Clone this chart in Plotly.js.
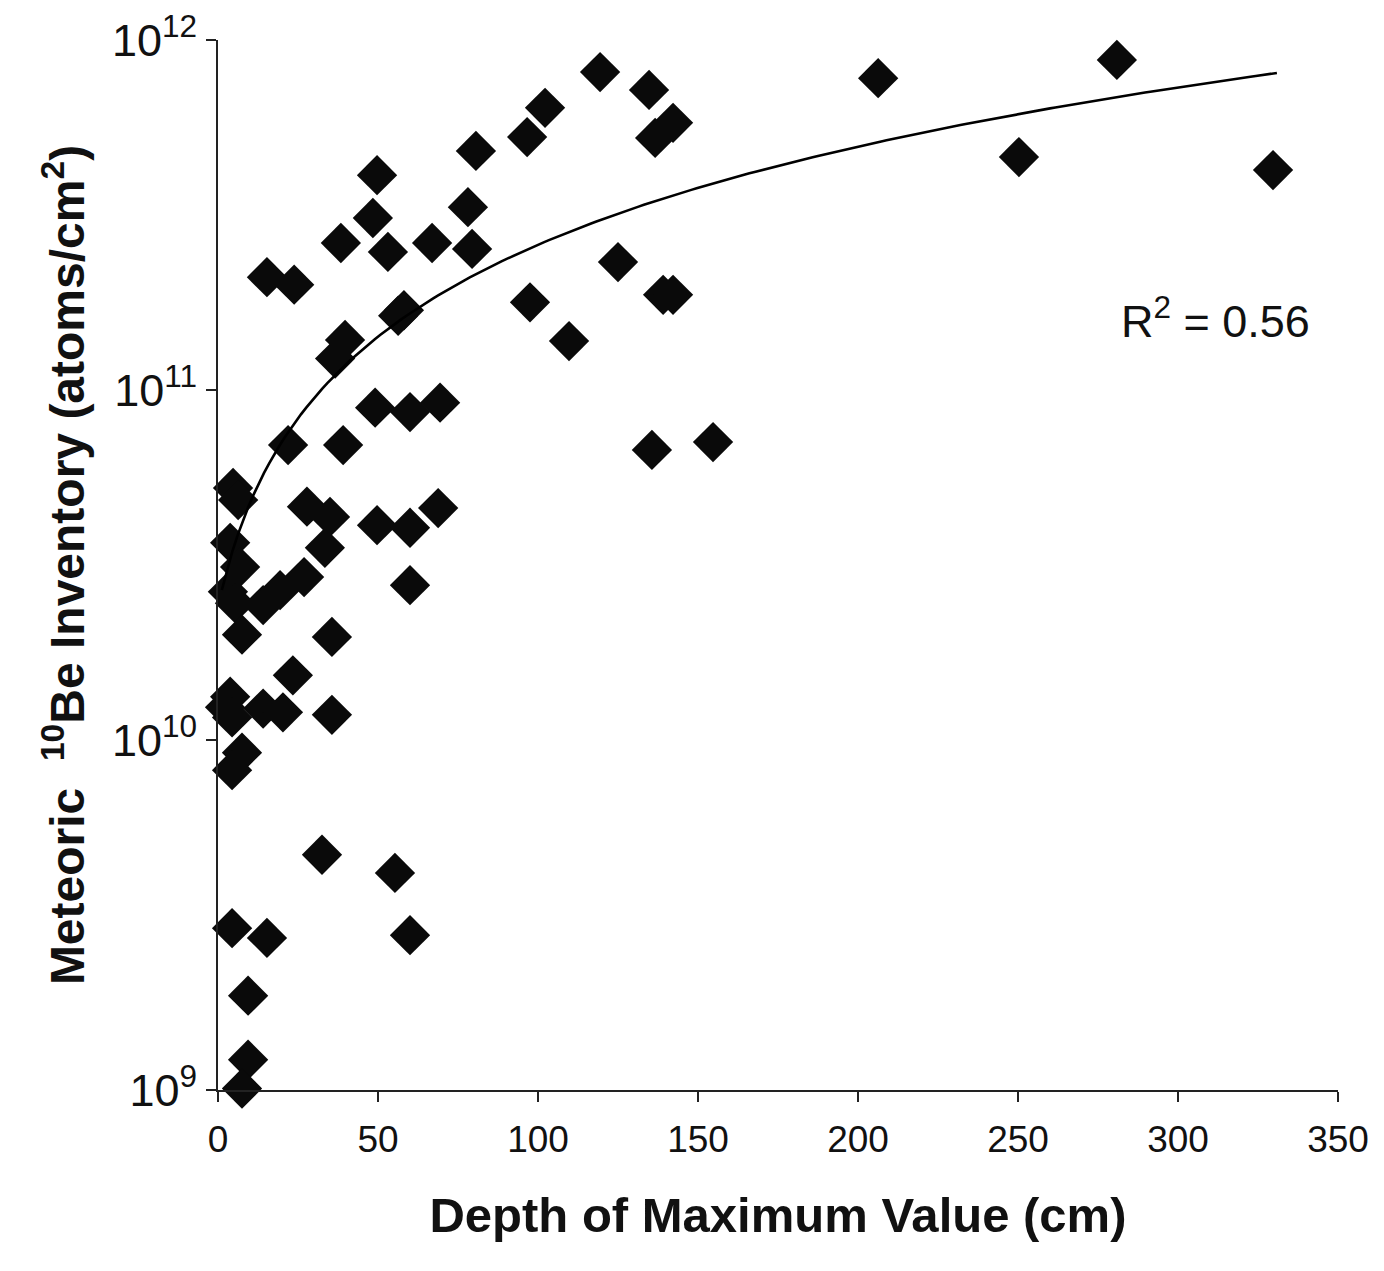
<!DOCTYPE html>
<html>
<head>
<meta charset="utf-8">
<script src="https://cdn.plot.ly/plotly-3.0.1.min.js"></script>
<style>html,body{margin:0;padding:0;background:#fff;}#chart{width:1384px;height:1271px;}</style>
</head>
<body>
<div id="chart"></div>
<script>
// Depth of maximum value (cm)
const depthCm = [119.4, 280.9, 206.3, 134.7, 102.2, 96.6, 136.6, 142.2, 80.6, 250.3,
  329.7, 49.7, 48.4, 78.1, 38.4, 53.1, 66.9, 79.4, 125.0, 15.3,
  23.8, 97.5, 139.1, 142.2, 56.3, 58.1, 109.7, 39.7, 36.6, 49.1,
  60.0, 69.4, 135.6, 154.7, 21.9, 39.1, 4.7, 6.3, 27.8, 35.0,
  33.4, 49.7, 60.0, 68.8, 60.0, 3.8, 6.9, 3.1, 5.3, 14.1,
  19.4, 26.9, 7.5, 35.6, 23.4, 3.8, 2.2, 14.1, 20.3, 35.6,
  4.4, 7.5, 4.4, 32.5, 55.3, 4.4, 15.3, 60.0, 9.4, 9.4, 7.5];
// Meteoric 10Be inventory (atoms/cm2)
const inventory = [8.1e11, 8.77e11, 7.78e11, 7.2e11, 6.4e11, 5.28e11, 5.25e11, 5.8e11, 4.82e11, 4.63e11,
  4.25e11, 4.11e11, 3.1e11, 3.33e11, 2.63e11, 2.48e11, 2.63e11, 2.53e11, 2.32e11, 2.1e11,
  2.0e11, 1.78e11, 1.87e11, 1.87e11, 1.63e11, 1.69e11, 1.38e11, 1.39e11, 1.23e11, 8.9e10,
  8.65e10, 9.2e10, 6.74e10, 7.1e10, 6.96e10, 6.96e10, 5.25e10, 4.85e10, 4.64e10, 4.34e10,
  3.54e10, 4.11e10, 4.04e10, 4.6e10, 2.77e10, 3.66e10, 3.12e10, 2.65e10, 2.46e10, 2.43e10,
  2.68e10, 2.92e10, 2.0e10, 1.97e10, 1.53e10, 1.33e10, 1.24e10, 1.23e10, 1.2e10, 1.18e10,
  1.16e10, 9.2e9, 8.2e9, 4.7e9, 4.17e9, 2.9e9, 2.72e9, 2.77e9, 1.86e9, 1.22e9, 1.01e9];

// Linear trendline: y = slope * x + intercept
const trendSlope = 2.36e9;
const trendIntercept = 2.4e10;
const trendXStart = 1.2;
const trendXEnd = 330.9;
const rSquaredLabel = 'R<sup>2</sup> = 0.56';

const yTickVals = [1e9, 1e10, 1e11, 1e12];
const yTickText = ['10<sup>9</sup>', '10<sup>10</sup>', '10<sup>11</sup>', '10<sup>12</sup>'];
const xTickVals = [0, 50, 100, 150, 200, 250, 300, 350];

const trendX = [];
const trendY = [];
for (let i = 0; i <= 200; i++) {
  const x = trendXStart + (trendXEnd - trendXStart) * i / 200;
  trendX.push(x);
  trendY.push(trendSlope * x + trendIntercept);
}

const font = 'Liberation Sans, Arial, sans-serif';

const data = [
  {
    x: depthCm, y: inventory, type: 'scatter', mode: 'markers',
    marker: {symbol: 'diamond', size: 31, color: '#0a0a0a', line: {width: 0}},
    cliponaxis: false, showlegend: false, hoverinfo: 'x+y'
  },
  {
    x: trendX, y: trendY, type: 'scatter', mode: 'lines',
    line: {color: '#000', width: 2.6}, showlegend: false, hoverinfo: 'skip', cliponaxis: false
  }
];

const layout = {
  width: 1384, height: 1271,
  margin: {l: 218, r: 46, t: 40, b: 181},
  paper_bgcolor: '#fff', plot_bgcolor: '#fff',
  font: {family: font, color: '#000'},
  xaxis: {
    range: [0, 350], tickvals: xTickVals, ticks: 'outside', ticklen: 10, tickwidth: 2, tickcolor: '#222',
    showline: true, linecolor: '#222', linewidth: 2, showgrid: false, zeroline: false,
    ticklabelstandoff: 6,
    tickfont: {family: font, size: 37, color: '#111'},
    title: {text: '<b>Depth of Maximum Value (cm)</b>', font: {family: font, size: 49, color: '#111'}, standoff: 38}
  },
  yaxis: {
    type: 'log', range: [9, 12], tickvals: yTickVals, ticktext: yTickText,
    ticks: 'outside', ticklen: 10, tickwidth: 2, tickcolor: '#222',
    showline: true, linecolor: '#222', linewidth: 2, showgrid: false, zeroline: false,
    tickfont: {family: font, size: 45, color: '#111'},
    title: {text: '<b>Meteoric  <sup>10</sup>Be Inventory (atoms/cm<sup>2</sup>)</b>', font: {family: font, size: 48, color: '#111'}, standoff: 12}
  },
  annotations: [{
    text: rSquaredLabel, xref: 'paper', yref: 'paper', x: 0.891, y: 0.735,
    showarrow: false, font: {family: font, size: 45, color: '#111'}, xanchor: 'center', yanchor: 'middle'
  }]
};

Plotly.newPlot('chart', data, layout, {displayModeBar: false, staticPlot: true});
</script>
</body>
</html>
